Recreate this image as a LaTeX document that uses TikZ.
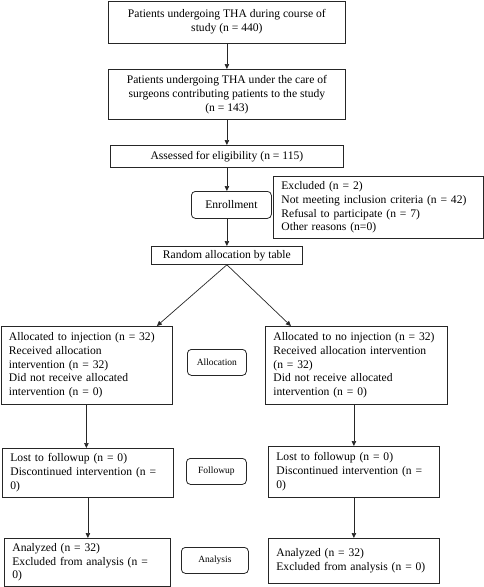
\documentclass[tikz,border=0pt]{standalone}
\usepackage{fontspec}
\setmainfont{Liberation Serif}
\usetikzlibrary{arrows.meta,calc}
\tikzset{
  box/.style={draw=black!85, line width=0.8pt, anchor=north west, inner xsep=8pt, inner ysep=0pt,
    font=\fontsize{11.6}{13.8}\selectfont},
  cbox/.style={box, align=center},
  lbox/.style={box, align=left},
  phase/.style={draw=black!85, line width=0.8pt, rounded corners=4pt, anchor=north west, inner sep=0pt,
    font=\fontsize{9.5}{11}\selectfont, align=center},
  arr/.style={-{Triangle[length=5pt,width=4.5pt]}, line width=0.7pt, black!85}
}
\begin{document}
\begin{tikzpicture}[x=1pt,y=-1pt]
\useasboundingbox (0,0) rectangle (484,587);
\node[cbox, minimum width=237pt, minimum height=42pt] (b1) at (108,0.5)
  {Patients undergoing THA during course of\\ study (n = 440)};
\node[cbox, minimum width=237pt, minimum height=50pt] (b2) at (108,69)
  {Patients undergoing THA under the care of\\ surgeons contributing patients to the study\\ (n = 143)};
\node[cbox, minimum width=233pt, minimum height=22pt] (b3) at (110,145)
  {Assessed for eligibility (n = 115)};
\node[phase, minimum width=80pt, minimum height=27pt, font=\fontsize{11.6}{13.8}\selectfont] (enr) at (191,191)
  {Enrollment};
\node[lbox, minimum width=210pt, minimum height=62pt, text width=194pt] (exc) at (273,176)
  {Excluded (n = 2)\\ Not meeting inclusion criteria (n = 42)\\ Refusal to participate (n = 7)\\ Other reasons (n=0)};
\node[cbox, minimum width=151pt, minimum height=18pt] (rnd) at (151,246)
  {Random allocation by table};
\node[lbox, minimum width=166pt, minimum height=78pt, text width=155pt] (la) at (0.5,326)
  {Allocated to injection (n = 32)\\ Received allocation\\ intervention (n = 32)\\ Did not receive allocated\\ intervention (n = 0)};
\node[phase, minimum width=59pt, minimum height=26pt] (alloc) at (187,349) {Allocation};
\node[lbox, minimum width=176pt, minimum height=78pt, text width=166pt] (ra) at (265,326)
  {Allocated to no injection (n = 32)\\ Received allocation intervention\\ (n = 32)\\ Did not receive allocated\\ intervention (n = 0)};
\node[lbox, minimum width=166pt, minimum height=49pt, text width=155pt] (lf) at (2,448)
  {Lost to followup (n = 0)\\ Discontinued intervention (n =\\ 0)};
\node[phase, minimum width=60pt, minimum height=26pt] (fol) at (186,458) {Followup};
\node[lbox, minimum width=166pt, minimum height=51pt, text width=155pt] (rf) at (268,446)
  {Lost to followup (n = 0)\\ Discontinued intervention (n =\\ 0)};
\node[lbox, minimum width=160pt, minimum height=48pt, text width=150pt] (lan) at (4,538)
  {Analyzed (n = 32)\\ Excluded from analysis (n =\\ 0)};
\node[phase, minimum width=67pt, minimum height=26pt] (ana) at (181,547) {Analysis};
\node[lbox, minimum width=166pt, minimum height=45pt, text width=155pt] (ran) at (268,538)
  {Analyzed (n = 32)\\ Excluded from analysis (n = 0)};
% arrows
\draw[arr] (b1.south) -- (b2.north);
\draw[arr] (b2.south) -- (b3.north);
\draw[arr] (b3.south) -- (b3.south |- enr.north);
\draw[arr] (rnd.north |- enr.south) -- (rnd.north);
\coordinate (lt) at ($(la.north west)!0.91!(la.north east)$);
\coordinate (rt) at ($(ra.north west)!0.142!(ra.north east)$);
\draw[arr] (rnd.south) -- (lt);
\draw[arr] (rnd.south) -- (rt);
\draw[arr] (la.south) -- (la.south |- lf.north);
\draw[arr] (lf.south) -- (lf.south |- lan.north);
\draw[arr] (rf.north |- ra.south) -- (rf.north);
\draw[arr] (rf.south) -- (ran.north);
\end{tikzpicture}
\end{document}
